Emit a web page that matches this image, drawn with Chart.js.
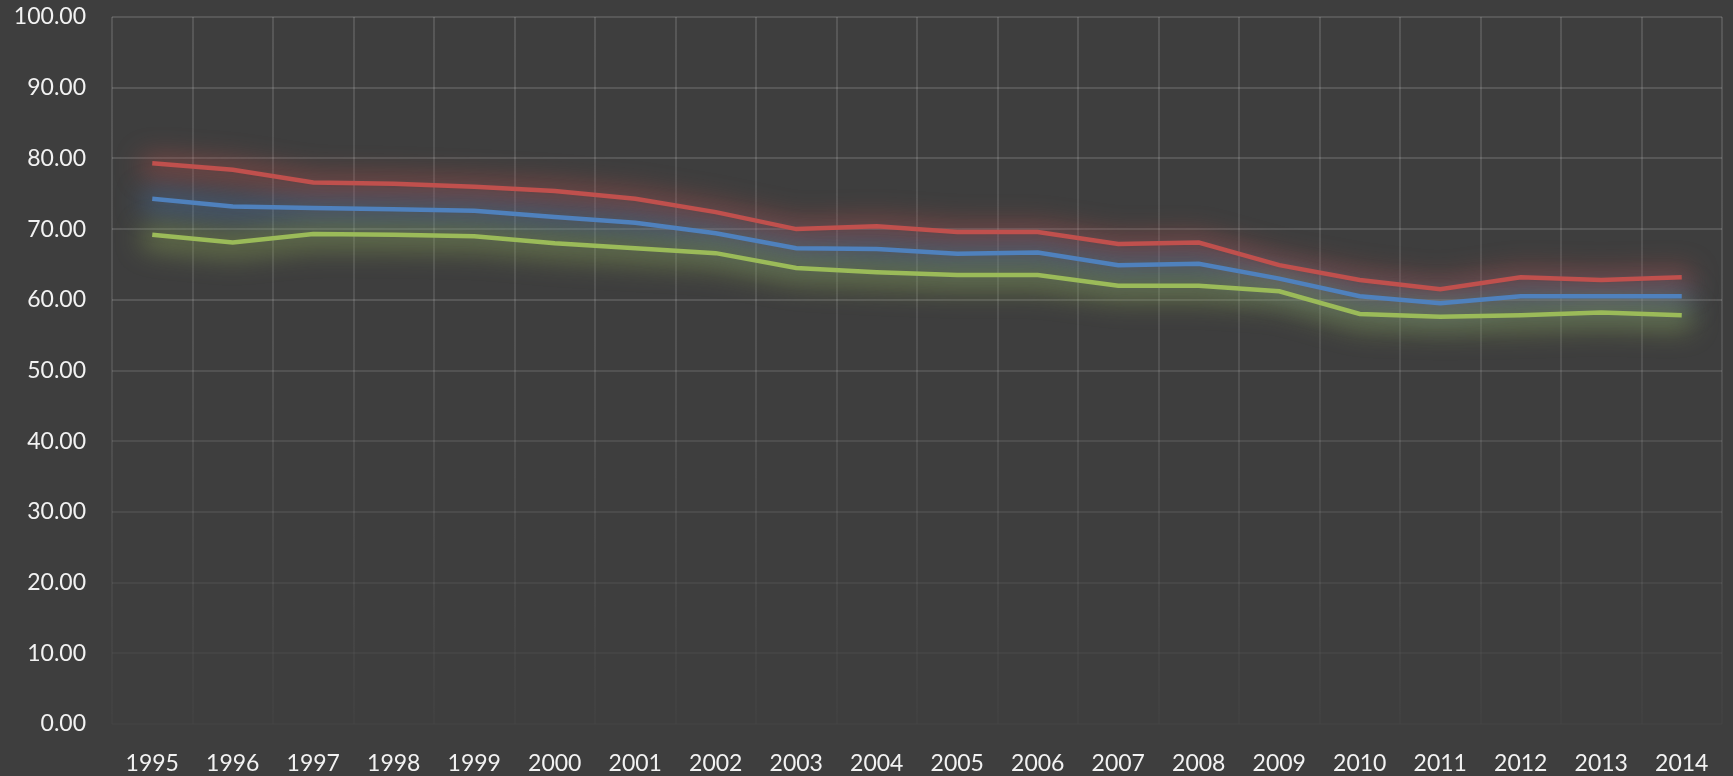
<!DOCTYPE html>
<html lang="en">
  <head>
    <meta charset="UTF-8" />
    <title>Chart</title>
    <script src="https://cdn.jsdelivr.net/npm/chart.js@4.4.0/dist/chart.umd.min.js"></script>
    <style>
      html, body { margin: 0; padding: 0; background: #3e3e3e; }
      #wrap { width: 1733px; height: 776px; }
    </style>
  </head>
  <body>
    <div id="wrap"><canvas id="myChart" width="1733" height="776"></canvas></div>
    <script>
      const years = ["1995", "1996", "1997", "1998", "1999", "2000", "2001", "2002", "2003", "2004",
        "2005", "2006", "2007", "2008", "2009", "2010", "2011", "2012", "2013", "2014"];
      const redSeries = [79.3, 78.4, 76.6, 76.4, 76.0, 75.4, 74.3, 72.4, 70.0, 70.4,
        69.6, 69.6, 67.9, 68.1, 64.9, 62.8, 61.5, 63.2, 62.8, 63.2];
      const blueSeries = [74.3, 73.2, 73.0, 72.8, 72.6, 71.7, 70.9, 69.4, 67.3, 67.2,
        66.5, 66.7, 64.9, 65.1, 63.0, 60.5, 59.5, 60.5, 60.5, 60.5];
      const greenSeries = [69.2, 68.1, 69.3, 69.2, 69.0, 68.0, 67.3, 66.6, 64.5, 63.9,
        63.5, 63.5, 62.0, 62.0, 61.2, 58.0, 57.6, 57.8, 58.2, 57.8];
      const yTicks = [0, 10, 20, 30, 40, 50, 60, 70, 80, 90, 100];

      const ctx = document.getElementById("myChart").getContext("2d");

      const bgPlugin = {
        id: "bg",
        beforeDraw(chart) {
          const c = chart.ctx;
          c.save();
          c.fillStyle = "#3e3e3e";
          c.fillRect(0, 0, chart.width, chart.height);
          c.restore();
        },
      };

      // blurred wide stroke behind each line, following the library's own points
      const glowPlugin = {
        id: "glow",
        beforeDatasetsDraw(chart) {
          const c = chart.ctx;
          chart.data.datasets.forEach((ds, i) => {
            const pts = chart.getDatasetMeta(i).data;
            c.save();
            c.filter = "blur(13px)";
            c.strokeStyle = ds.glowColor;
            c.lineWidth = 24;
            c.lineJoin = "round";
            c.lineCap = "round";
            c.beginPath();
            pts.forEach((p, k) => {
              if (k === 0) c.moveTo(p.x, p.y + 3);
              else c.lineTo(p.x, p.y + 3);
            });
            c.stroke();
            c.restore();
          });
        },
      };

      function vGridColor(context) {
        const chart = context.chart;
        const area = chart.chartArea;
        if (!area) return "rgba(255,255,255,0.12)";
        const g = chart.ctx.createLinearGradient(0, area.top, 0, area.bottom);
        g.addColorStop(0, "rgba(255,255,255,0.13)");
        g.addColorStop(0.45, "rgba(255,255,255,0.11)");
        g.addColorStop(1, "rgba(255,255,255,0.015)");
        return g;
      }

      function hGridColor(context) {
        const v = context.tick ? context.tick.value : 100;
        const a = v >= 60 ? 0.13 : 0.015 + (v / 60) * 0.11;
        return "rgba(255,255,255," + a.toFixed(3) + ")";
      }

      const myChart = new Chart(ctx, {
        type: "line",
        data: {
          labels: years,
          datasets: [
            {
              label: "Red",
              data: redSeries,
              borderColor: "#c0504d",
              glowColor: "rgba(192,80,77,0.42)",
              borderWidth: 4.5,
              pointRadius: 0,
              tension: 0,
            },
            {
              label: "Blue",
              data: blueSeries,
              borderColor: "#4f81bd",
              glowColor: "rgba(79,129,189,0.42)",
              borderWidth: 4.5,
              pointRadius: 0,
              tension: 0,
            },
            {
              label: "Green",
              data: greenSeries,
              borderColor: "#9bbb59",
              glowColor: "rgba(155,187,89,0.42)",
              borderWidth: 4.5,
              pointRadius: 0,
              tension: 0,
            },
          ],
        },
        options: {
          responsive: false,
          animation: false,
          layout: { padding: { top: 17, right: 11, left: 0, bottom: 0 } },
          plugins: {
            legend: { display: false },
            tooltip: { enabled: false },
          },
          scales: {
            x: {
              offset: true,
              grid: { offset: true, color: vGridColor, lineWidth: 2, drawTicks: false },
              border: { display: false },
              ticks: {
                color: "#f2f2f2",
                font: { family: "Lato", size: 23 },
                padding: 26,
                maxRotation: 0,
                autoSkip: false,
              },
              afterFit(scale) {
                scale.height = 52;
                scale.paddingLeft = 0;
                scale.paddingRight = 0;
              },
            },
            y: {
              min: 0,
              max: 100,
              afterBuildTicks(scale) { scale.ticks = yTicks.map((v) => ({ value: v })); },
              grid: { color: hGridColor, lineWidth: 2, drawTicks: false },
              border: { display: false },
              ticks: {
                color: "#f2f2f2",
                font: { family: "Lato", size: 23 },
                padding: 26,
                callback: (v) => Number(v).toFixed(2),
              },
              afterFit(scale) {
                scale.width = 112;
                scale.paddingTop = 0;
                scale.paddingBottom = 0;
              },
            },
          },
        },
        plugins: [bgPlugin, glowPlugin],
      });
    </script>
  </body>
</html>
